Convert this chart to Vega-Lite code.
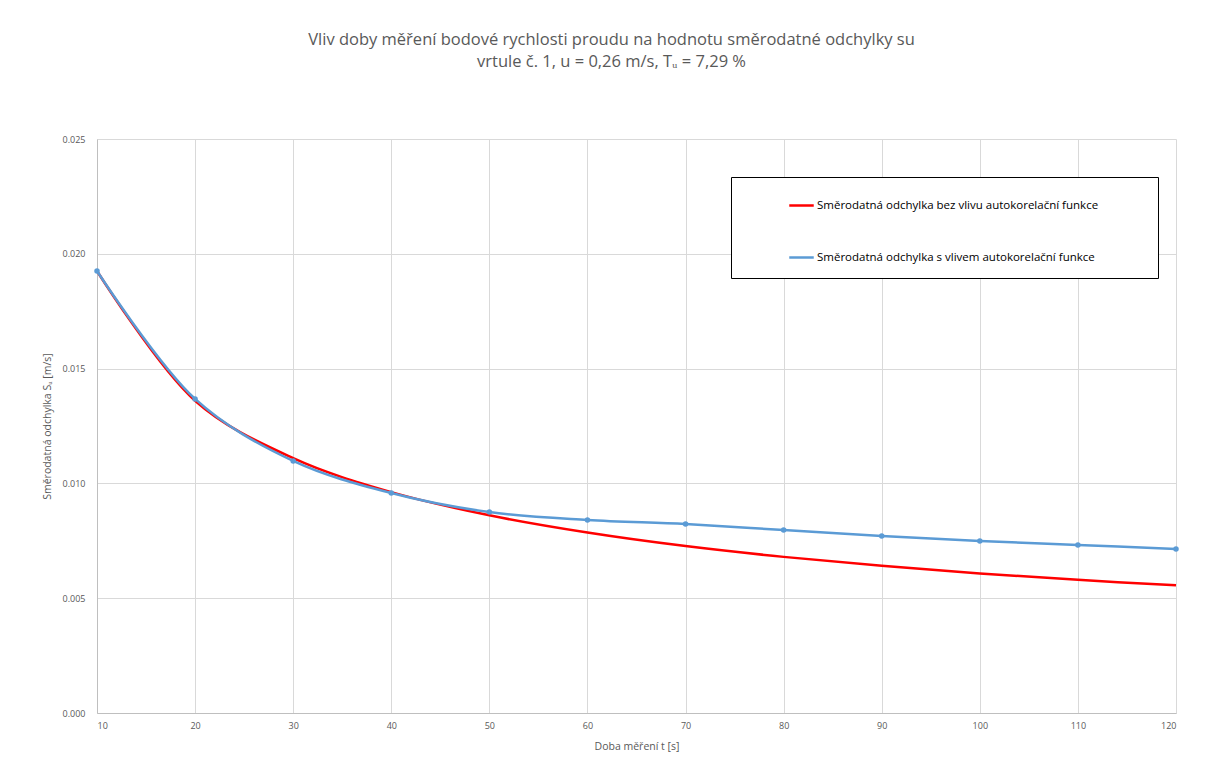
{
  "$schema": "https://vega.github.io/schema/vega-lite/v6.json",
  "width": 1079,
  "height": 574,
  "padding": {"left": 42, "top": 31, "right": 30, "bottom": 20},
  "background": "white",
  "title": {
    "text": ["Vliv doby měření bodové rychlosti proudu na hodnotu směrodatné odchylky su", "vrtule č. 1, u = 0,26 m/s, Tᵤ = 7,29 %"],
    "font": "Open Sans",
    "fontSize": 16.5,
    "fontWeight": "normal",
    "color": "#595959",
    "anchor": "middle",
    "frame": "bounds",
    "lineHeight": 22,
    "offset": 65
  },
  "config": {
    "view": {"stroke": null},
    "font": "Open Sans",
    "axis": {
      "labelColor": "#595959",
      "titleColor": "#595959",
      "labelFontSize": 9,
      "titleFontSize": 10.5,
      "titleFontWeight": "normal",
      "gridColor": "#d9d9d9",
      "gridWidth": 1,
      "domainColor": "#bfbfbf",
      "ticks": false
    }
  },
  "data": {
    "values": [
      {"t": 10, "s": 0.01925, "series": "Směrodatná odchylka bez vlivu autokorelační funkce"},
      {"t": 20, "s": 0.01360, "series": "Směrodatná odchylka bez vlivu autokorelační funkce"},
      {"t": 30, "s": 0.01110, "series": "Směrodatná odchylka bez vlivu autokorelační funkce"},
      {"t": 40, "s": 0.00962, "series": "Směrodatná odchylka bez vlivu autokorelační funkce"},
      {"t": 50, "s": 0.00861, "series": "Směrodatná odchylka bez vlivu autokorelační funkce"},
      {"t": 60, "s": 0.00786, "series": "Směrodatná odchylka bez vlivu autokorelační funkce"},
      {"t": 70, "s": 0.00727, "series": "Směrodatná odchylka bez vlivu autokorelační funkce"},
      {"t": 80, "s": 0.00680, "series": "Směrodatná odchylka bez vlivu autokorelační funkce"},
      {"t": 90, "s": 0.00641, "series": "Směrodatná odchylka bez vlivu autokorelační funkce"},
      {"t": 100, "s": 0.00608, "series": "Směrodatná odchylka bez vlivu autokorelační funkce"},
      {"t": 110, "s": 0.00580, "series": "Směrodatná odchylka bez vlivu autokorelační funkce"},
      {"t": 120, "s": 0.00556, "series": "Směrodatná odchylka bez vlivu autokorelační funkce"},
      {"t": 10, "s": 0.01925, "series": "Směrodatná odchylka s vlivem autokorelační funkce"},
      {"t": 20, "s": 0.01368, "series": "Směrodatná odchylka s vlivem autokorelační funkce"},
      {"t": 30, "s": 0.01098, "series": "Směrodatná odchylka s vlivem autokorelační funkce"},
      {"t": 40, "s": 0.00958, "series": "Směrodatná odchylka s vlivem autokorelační funkce"},
      {"t": 50, "s": 0.00875, "series": "Směrodatná odchylka s vlivem autokorelační funkce"},
      {"t": 60, "s": 0.00841, "series": "Směrodatná odchylka s vlivem autokorelační funkce"},
      {"t": 70, "s": 0.00823, "series": "Směrodatná odchylka s vlivem autokorelační funkce"},
      {"t": 80, "s": 0.00797, "series": "Směrodatná odchylka s vlivem autokorelační funkce"},
      {"t": 90, "s": 0.00771, "series": "Směrodatná odchylka s vlivem autokorelační funkce"},
      {"t": 100, "s": 0.00749, "series": "Směrodatná odchylka s vlivem autokorelační funkce"},
      {"t": 110, "s": 0.00732, "series": "Směrodatná odchylka s vlivem autokorelační funkce"},
      {"t": 120, "s": 0.00714, "series": "Směrodatná odchylka s vlivem autokorelační funkce"}
    ]
  },
  "encoding": {
    "x": {
      "field": "t", "type": "quantitative",
      "scale": {"domain": [10, 120], "nice": false, "zero": false},
      "axis": {"values": [10,20,30,40,50,60,70,80,90,100,110,120], "title": "Doba měření t [s]", "labelPadding": 8, "titlePadding": 11}
    },
    "y": {
      "field": "s", "type": "quantitative",
      "scale": {"domain": [0, 0.025], "nice": false},
      "axis": {"values": [0, 0.005, 0.01, 0.015, 0.02, 0.025], "format": ".3f", "title": "Směrodatná odchylka Sᵤ [m/s]", "labelPadding": 12, "titlePadding": 10}
    },
    "color": {
      "field": "series", "type": "nominal",
      "scale": {"domain": ["Směrodatná odchylka bez vlivu autokorelační funkce", "Směrodatná odchylka s vlivem autokorelační funkce"], "range": ["#ff0000", "#5b9bd5"]},
      "legend": {
        "title": ".",
        "titleColor": "white",
        "titleOrient": "right",
        "titlePadding": 41,
        "orient": "none",
        "legendX": 634,
        "legendY": 38,
        "direction": "vertical",
        "strokeColor": "#000000",
        "fillColor": "white",
        "padding": 15,
        "rowPadding": 33,
        "symbolType": "stroke",
        "symbolStrokeWidth": 2.5,
        "symbolSize": 600,
        "symbolOffset": 42,
        "labelFontSize": 11.5,
        "labelColor": "#000000",
        "labelLimit": 500,
        "labelOffset": 2
      }
    }
  },
  "layer": [
    {
      "mark": {"type": "line", "interpolate": "catmull-rom", "strokeWidth": 2.5}
    },
    {
      "transform": [{"filter": "datum.series == 'Směrodatná odchylka s vlivem autokorelační funkce'"}],
      "mark": {"type": "point", "filled": true, "size": 30, "opacity": 1}
    }
  ]
}
